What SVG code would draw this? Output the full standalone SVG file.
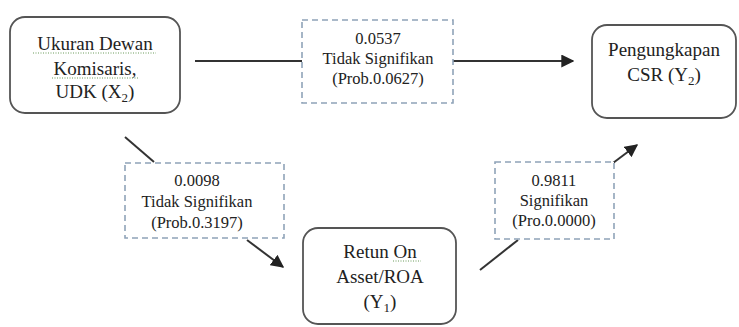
<svg xmlns="http://www.w3.org/2000/svg" width="739" height="327" viewBox="0 0 739 327">
<defs>
<style>
.node{fill:#fff;stroke:#555;stroke-width:1.8}
.dash{fill:#fff;stroke:#8fa3b8;stroke-width:1.6;stroke-dasharray:6 4}
.t{font-family:"Liberation Serif","Times New Roman",serif;fill:#222;text-anchor:middle}
.big{font-size:19px}
.sm{font-size:16.5px}
.conn{stroke:#333;stroke-width:2;fill:none}
.sq{stroke:#6a9a5a;stroke-width:1;stroke-dasharray:1 1.5;fill:none}
</style>
<marker id="ah" viewBox="0 0 10 10" refX="9" refY="5" markerWidth="6.5" markerHeight="6.5" orient="auto" markerUnits="strokeWidth">
<path d="M0,0 L10,5 L0,10 z" fill="#222"/>
</marker>
</defs>
<rect width="739" height="327" fill="#fff"/>
<g id="connectors">
<line class="conn" x1="195" y1="61" x2="302" y2="61"/>
<line class="conn" x1="453" y1="61" x2="573" y2="61" marker-end="url(#ah)"/>
<line class="conn" x1="125" y1="137" x2="154" y2="162"/>
<line class="conn" x1="247" y1="240" x2="283" y2="267" marker-end="url(#ah)"/>
<line class="conn" x1="480" y1="270" x2="518" y2="240"/>
<line class="conn" x1="613" y1="163" x2="637" y2="145" marker-end="url(#ah)"/>
</g>
<g id="udk">
<rect class="node" x="10" y="17" width="170" height="96" rx="15"/>
<text class="t big" x="95" y="50">Ukuran Dewan</text>
<text class="t big" x="95" y="75">Komisaris,</text>
<text class="t big" x="95" y="98">UDK (X<tspan font-size="13" dy="4">2</tspan><tspan dy="-4">)</tspan></text>
<line class="sq" x1="33" y1="53" x2="156" y2="53"/>
<line class="sq" x1="52" y1="78" x2="138" y2="78"/>
</g>
<g id="label-top">
<rect class="dash" x="302" y="20" width="151" height="83"/>
<text class="t sm" x="378" y="44">0.0537</text>
<text class="t sm" x="378" y="64">Tidak Signifikan</text>
<text class="t sm" x="378" y="84">(Prob.0.0627)</text>
</g>
<g id="csr">
<rect class="node" x="592" y="25" width="144" height="93" rx="15"/>
<text class="t big" x="664" y="56">Pengungkapan</text>
<text class="t big" x="664" y="81">CSR (Y<tspan font-size="13" dy="4">2</tspan><tspan dy="-4">)</tspan></text>
</g>
<g id="label-left">
<rect class="dash" x="125" y="163" width="159" height="75"/>
<text class="t sm" x="197" y="186">0.0098</text>
<text class="t sm" x="197" y="207">Tidak Signifikan</text>
<text class="t sm" x="197" y="228">(Prob.0.3197)</text>
</g>
<g id="roa">
<rect class="node" x="303" y="228" width="153" height="96" rx="15"/>
<text class="t big" x="380" y="258">Retun On</text>
<text class="t big" x="380" y="283">Asset/ROA</text>
<text class="t big" x="380" y="308">(Y<tspan font-size="13" dy="4">1</tspan><tspan dy="-4">)</tspan></text>
<line class="sq" x1="393" y1="261" x2="421" y2="261"/>
</g>
<g id="label-right">
<rect class="dash" x="495" y="162" width="119" height="77"/>
<text class="t sm" x="554" y="186">0.9811</text>
<text class="t sm" x="554" y="206">Signifikan</text>
<text class="t sm" x="554" y="226">(Pro.0.0000)</text>
</g>
</svg>
